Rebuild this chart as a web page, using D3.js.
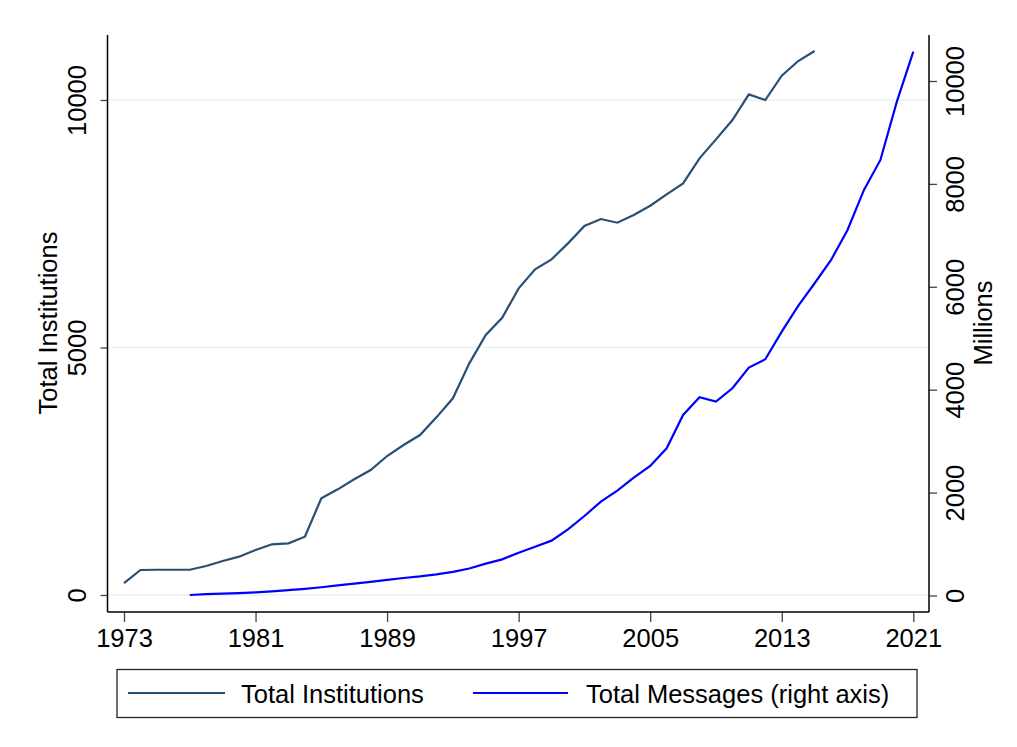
<!DOCTYPE html>
<html>
<head>
<meta charset="utf-8">
<script src="https://cdn.jsdelivr.net/npm/d3@7"></script>
<style>
  body { margin: 0; background: #fff; }
  text { font-family: "Liberation Sans", Arial, sans-serif; fill: #000; }
</style>
</head>
<body>
<div id="chart"></div>
<script>
// yearly data
var instYears = d3.range(1973, 2016);
var institutions = [240, 505, 510, 510, 510, 586, 687, 774, 909, 1024, 1044, 1178, 1953, 2135, 2337,
  2525, 2808, 3030, 3232, 3589, 3973, 4680, 5252, 5600, 6195, 6579, 6781, 7104, 7454, 7595,
  7521, 7676, 7864, 8094, 8316, 8821, 9205, 9595, 10114, 10000, 10490, 10787, 10989];

var msgYears = d3.range(1977, 2022);
var messages = [10, 25, 35, 45, 60, 80, 105, 130, 160, 195, 230, 265, 305, 340, 370, 410, 460,
  525, 620, 703, 832, 949, 1066, 1287, 1545, 1824, 2038, 2290, 2517, 2861, 3509, 3853, 3768,
  4028, 4429, 4592, 5129, 5630, 6069, 6522, 7105, 7883, 8466, 9600, 10572];

var xTicks = [1973, 1981, 1989, 1997, 2005, 2013, 2021];
var leftTicks = [0, 5000, 10000];
var rightTicks = [0, 2000, 4000, 6000, 8000, 10000];

var W = 1017, H = 747;
var plotL = 107.5, plotR = 929, plotT = 35, plotB = 612;
var fontSize = "25.5px";

var svg = d3.select("#chart").append("svg")
  .attr("width", W)
  .attr("height", H);

// scales
var x = d3.scaleLinear().domain([1973, 2021]).range([124, 913.3]);
var yL = d3.scaleLinear().domain([0, 10000]).range([595, 100]);
var yR = d3.scaleLinear().domain([0, 10000]).range([595.5, 81]);

// gridlines
svg.selectAll(".grid")
  .data(leftTicks)
  .enter().append("line")
    .attr("x1", plotL).attr("x2", plotR)
    .attr("y1", d => yL(d)).attr("y2", d => yL(d))
    .attr("stroke", "#eaf2f3")
    .attr("stroke-width", 1.5);

// axes
var axL = svg.append("g").attr("transform", "translate(" + plotL + ",0)")
  .call(d3.axisLeft(yL).tickValues(leftTicks).tickSize(7).tickPadding(0).tickFormat(d3.format("d")));
axL.selectAll("text")
  .attr("transform", "translate(-22,0) rotate(-90)")
  .attr("x", 0).attr("y", 0).attr("dy", 0)
  .attr("text-anchor", "middle");

var axR = svg.append("g").attr("transform", "translate(" + plotR + ",0)")
  .call(d3.axisRight(yR).tickValues(rightTicks).tickSize(8).tickPadding(0).tickFormat(d3.format("d")));
axR.selectAll("text")
  .attr("transform", "translate(35,0) rotate(-90)")
  .attr("x", 0).attr("y", 0).attr("dy", 0)
  .attr("text-anchor", "middle");

var axB = svg.append("g").attr("transform", "translate(0," + plotB + ")")
  .call(d3.axisBottom(x).tickValues(xTicks).tickSize(10).tickPadding(0).tickFormat(d3.format("d")));
axB.selectAll("text").attr("y", 35).attr("dy", 0);

[axL, axR, axB].forEach(function(a) {
  a.select(".domain").remove();
  a.selectAll("text").style("font-size", fontSize).attr("fill", "#000")
    .style("font-family", "'Liberation Sans', Arial, sans-serif");
  a.selectAll("line").attr("stroke", "#444").attr("stroke-width", 1.3);
});

// axis lines
svg.append("line").attr("x1", plotL).attr("x2", plotL).attr("y1", plotT).attr("y2", plotB)
  .attr("stroke", "#000").attr("stroke-width", 1.5);
svg.append("line").attr("x1", plotR).attr("x2", plotR).attr("y1", plotT).attr("y2", plotB)
  .attr("stroke", "#000").attr("stroke-width", 1.5);
svg.append("line").attr("x1", plotL).attr("x2", plotR).attr("y1", plotB).attr("y2", plotB)
  .attr("stroke", "#000").attr("stroke-width", 1.5);

// axis titles
svg.append("text")
  .attr("transform", "translate(57,323) rotate(-90)")
  .attr("text-anchor", "middle")
  .style("font-size", fontSize)
  .text("Total Institutions");
svg.append("text")
  .attr("transform", "translate(992,323) rotate(-90)")
  .attr("text-anchor", "middle")
  .style("font-size", fontSize)
  .text("Millions");

// lines
var lineL = d3.line().x(d => x(d[0])).y(d => yL(d[1]));
var lineR = d3.line().x(d => x(d[0])).y(d => yR(d[1]));

svg.append("path")
  .datum(instYears.map((yr, i) => [yr, institutions[i]]))
  .attr("d", lineL)
  .attr("fill", "none")
  .attr("stroke", "#2a4f72")
  .attr("stroke-width", 2.2);

svg.append("path")
  .datum(msgYears.map((yr, i) => [yr, messages[i]]))
  .attr("d", lineR)
  .attr("fill", "none")
  .attr("stroke", "#0000ff")
  .attr("stroke-width", 2.2);

// legend
var lg = svg.append("g");
lg.append("rect")
  .attr("x", 117).attr("y", 669.5).attr("width", 800).attr("height", 48)
  .attr("fill", "#fff").attr("stroke", "#222").attr("stroke-width", 1.3);

var legendItems = [
  { label: "Total Institutions", color: "#2a4f72", x0: 128, x1: 225, tx: 241 },
  { label: "Total Messages (right axis)", color: "#0000ff", x0: 473, x1: 568, tx: 586 }
];
legendItems.forEach(function(it) {
  lg.append("line")
    .attr("x1", it.x0).attr("x2", it.x1).attr("y1", 693).attr("y2", 693)
    .attr("stroke", it.color).attr("stroke-width", 2.2);
  lg.append("text")
    .attr("x", it.tx).attr("y", 703)
    .style("font-size", fontSize)
    .text(it.label);
});
</script>
</body>
</html>
